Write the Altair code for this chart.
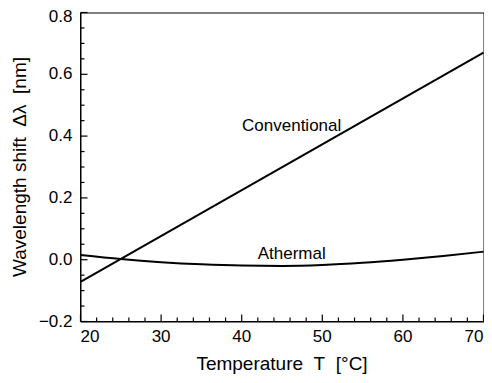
import altair as alt
import pandas as pd

# Data
conv_T = [20, 70]
conv_shift = [-0.072, 0.670]

ath_T = [20, 25, 30, 35, 40, 45, 50, 55, 60, 65, 70]
ath_shift = [0.015, 0.002, -0.008, -0.015, -0.019, -0.020, -0.017, -0.010, 0.000, 0.012, 0.026]

labels_text = ["Conventional", "Athermal"]
labels_T = [46.2, 46.2]
labels_y = [0.434, 0.020]

x_major = [20, 30, 40, 50, 60, 70]
x_minor = [t for t in range(20, 71, 2) if t % 10 != 0]
y_major = [-0.2, 0.0, 0.2, 0.4, 0.6, 0.8]
y_minor = [round(-0.2 + 0.05 * i, 2) for i in range(21) if i % 4 != 0]

FONT = "Liberation Sans"
SP = "\u00a0"

df_line = pd.DataFrame(
    {"T": conv_T, "shift": conv_shift, "series": "Conventional"}
)
df_line = pd.concat(
    [df_line, pd.DataFrame({"T": ath_T, "shift": ath_shift, "series": "Athermal"})]
)
df_lab = pd.DataFrame({"T": labels_T, "shift": labels_y, "text": labels_text})

xs = alt.Scale(domain=[20, 70], nice=False, zero=False)
ys = alt.Scale(domain=[-0.2, 0.8], nice=False, zero=False)

xaxis = alt.Axis(
    values=x_major, tickSize=0, labelPadding=7, labelFontSize=17, format="d",
    title=f"Temperature{SP}{SP}T{SP}{SP}[°C]", titleFontSize=19, titleFontWeight="normal",
    titlePadding=10, grid=False, domainColor="black", labelColor="black",
    titleColor="black", labelFont=FONT, titleFont=FONT,
)
yaxis = alt.Axis(
    values=y_major, tickSize=0, labelPadding=8, labelFontSize=17, format=".1f",
    labelOffset={"condition": {"test": "datum.value >= 0.79", "value": 4}, "value": 0},
    title=f"Wavelength shift{SP}{SP}Δλ{SP}{SP}[nm]", titleFontSize=19, titleFontWeight="normal",
    titlePadding=9, grid=False, domainColor="black", labelColor="black",
    titleColor="black", labelFont=FONT, titleFont=FONT,
)

lines = alt.Chart(df_line).mark_line(color="black", strokeWidth=2, interpolate="monotone").encode(
    x=alt.X("T:Q", scale=xs, axis=xaxis),
    y=alt.Y("shift:Q", scale=ys, axis=yaxis),
    detail="series:N",
)

texts = alt.Chart(df_lab).mark_text(font=FONT, fontSize=17, color="black").encode(
    x=alt.X("T:Q", scale=xs),
    y=alt.Y("shift:Q", scale=ys),
    text="text:N",
)

def xticks(vals, size):
    d = pd.DataFrame({"v": vals, "base": [-0.2] * len(vals)})
    return alt.Chart(d).mark_rule(
        color="black", strokeWidth=1.2, y2Offset=-size
    ).encode(x=alt.X("v:Q", scale=xs), y=alt.Y("base:Q", scale=ys), y2="base:Q")

def yticks(vals, size):
    d = pd.DataFrame({"v": vals, "base": [20] * len(vals)})
    return alt.Chart(d).mark_rule(
        color="black", strokeWidth=1.2, x2Offset=size
    ).encode(y=alt.Y("v:Q", scale=ys), x=alt.X("base:Q", scale=xs), x2="base:Q")

chart = alt.layer(
    lines, texts,
    xticks(x_major, 7), xticks(x_minor, 4),
    yticks(y_major, 7), yticks(y_minor, 4),
).properties(
    width=403, height=309,
    autosize=alt.AutoSizeParams(type="none"),
    padding={"left": 72.5, "top": 4.5, "right": 0, "bottom": 53.5},
    background="white",
).configure_view(stroke="black", strokeWidth=1).configure_axis(translate=0)

chart.save("out.html", embed_options={"renderer": "svg", "actions": False})
